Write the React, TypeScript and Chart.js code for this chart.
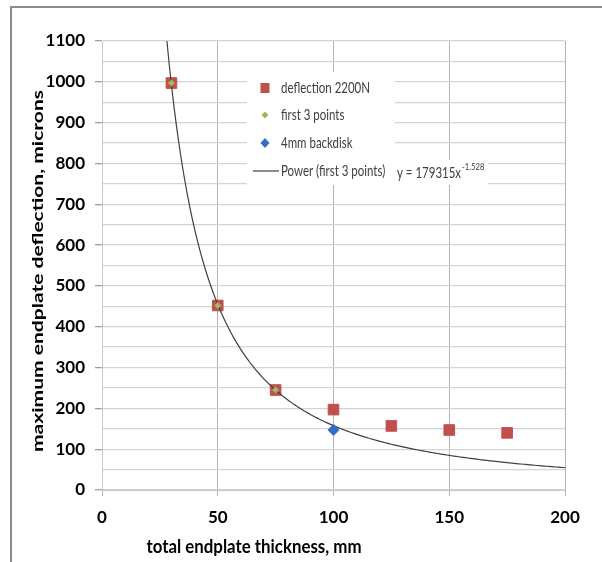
import React, { useEffect, useRef } from "react";
import { Chart, registerables } from "chart.js";

Chart.register(...registerables);

// ---- data ----
const thickness = [30, 50, 75, 100, 125, 150, 175];
const deflection2200N = [997, 452, 245, 197, 157, 147, 140];
const first3Thickness = [30, 50, 75];
const first3Deflection = [997, 452, 245];
const backdiskThickness = [100];
const backdiskDeflection = [147];
// power trendline shown on the chart: y = 179315 x^-1.528
const powerCoef = 179315;
const powerExp = -1.528;
const xMin = 0;
const xMax = 200;
const yMin = 0;
const yMax = 1100;

const legendLabels = ["deflection 2200N", "first 3 points", "4mm backdisk", "Power (first 3 points)"];
const equationText = "y = 179315x";
const equationExp = "-1.528";
const xTitle = "total endplate thickness, mm";
const yTitle = "maximum endplate deflection, microns";

const FONT = 'Lato, "Open Sans", sans-serif';

const RED = "#c0504d";
const GREEN = "#9bbb59";
const BLUE = "#2f6fc4";

function trendPoints() {
  const start = Math.pow(yMax / powerCoef, 1 / powerExp);
  const pts: { x: number; y: number }[] = [];
  pts.push({ x: start, y: powerCoef * Math.pow(start, powerExp) });
  for (let x = Math.ceil(start); x <= xMax; x += 1) {
    pts.push({ x, y: powerCoef * Math.pow(x, powerExp) });
  }
  return pts;
}

const framePlugin = {
  id: "frame",
  beforeDraw(chart: any) {
    const ctx = chart.ctx;
    ctx.save();
    ctx.fillStyle = "#ffffff";
    ctx.fillRect(0, 0, chart.width, chart.height);
    ctx.strokeStyle = "#8c8c8c";
    ctx.lineWidth = 2;
    ctx.beginPath();
    ctx.moveTo(chart.width, 7);
    ctx.lineTo(11, 7);
    ctx.lineTo(11, chart.height);
    ctx.stroke();
    ctx.restore();
  },
};

const overlayPlugin = {
  id: "overlay",
  afterDraw(chart: any) {
    const ctx = chart.ctx;
    ctx.save();
    // axis titles
    ctx.fillStyle = "#000000";
    ctx.font = `bold 15px ${FONT}`;
    ctx.textAlign = "center";
    ctx.textBaseline = "middle";
    const xw = ctx.measureText(xTitle).width;
    ctx.save();
    ctx.translate(254, 547);
    ctx.scale(215 / xw, 1.25);
    ctx.fillText(xTitle, 0, 0);
    ctx.restore();
    const yw = ctx.measureText(yTitle).width;
    ctx.save();
    ctx.translate(38, 271);
    ctx.rotate(-Math.PI / 2);
    ctx.scale(362 / yw, 1.05);
    ctx.fillText(yTitle, 0, 0);
    ctx.restore();

    // legend box
    ctx.fillStyle = "#ffffff";
    ctx.fillRect(247, 72, 148, 113);
    ctx.fillRect(392, 160, 96, 25);

    const rows = [88, 115, 143, 171];
    const mx = 265;
    // red square
    ctx.fillStyle = RED;
    ctx.fillRect(mx - 4.5, rows[0] - 5, 9, 10);
    // green diamond
    ctx.fillStyle = GREEN;
    ctx.beginPath();
    ctx.moveTo(mx, rows[1] - 3.5);
    ctx.lineTo(mx + 3.5, rows[1]);
    ctx.lineTo(mx, rows[1] + 3.5);
    ctx.lineTo(mx - 3.5, rows[1]);
    ctx.closePath();
    ctx.fill();
    // blue diamond
    ctx.fillStyle = BLUE;
    ctx.beginPath();
    ctx.moveTo(mx, rows[2] - 5);
    ctx.lineTo(mx + 4.5, rows[2]);
    ctx.lineTo(mx, rows[2] + 5);
    ctx.lineTo(mx - 4.5, rows[2]);
    ctx.closePath();
    ctx.fill();
    // line
    ctx.strokeStyle = "#404040";
    ctx.lineWidth = 1.2;
    ctx.beginPath();
    ctx.moveTo(253, rows[3]);
    ctx.lineTo(279, rows[3]);
    ctx.stroke();

    ctx.fillStyle = "#404040";
    ctx.textAlign = "left";
    ctx.textBaseline = "middle";
    ctx.font = `12px ${FONT}`;
    const sx = 89 / ctx.measureText(legendLabels[0]).width;
    legendLabels.forEach((t, i) => {
      ctx.save();
      ctx.translate(281, rows[i]);
      ctx.scale(sx, 1.25);
      ctx.fillText(t, 0, 0);
      ctx.restore();
    });
    // equation
    ctx.save();
    ctx.translate(397, 173);
    ctx.scale(sx, 1.2);
    ctx.font = `12px ${FONT}`;
    ctx.fillText(equationText, 0, 0);
    const ew = ctx.measureText(equationText).width;
    ctx.font = `8px ${FONT}`;
    ctx.fillText(equationExp, ew + 1, -5);
    ctx.restore();

    ctx.restore();
  },
};

export default function App() {
  const ref = useRef<HTMLCanvasElement>(null);

  useEffect(() => {
    if (!ref.current) return;
    const tickFont = { family: FONT, size: 17, weight: "bold" as const };
    const chart = new Chart(ref.current, {
      type: "scatter",
      data: {
        datasets: [
          {
            label: legendLabels[0],
            data: thickness.map((x, i) => ({ x, y: deflection2200N[i] })),
            backgroundColor: RED,
            borderColor: RED,
            pointStyle: "rect",
            pointRadius: 7.5,
            borderWidth: 1,
            order: 4,
          },
          {
            label: legendLabels[3],
            type: "line",
            data: trendPoints(),
            borderColor: "#404040",
            borderWidth: 1.2,
            pointRadius: 0,
            fill: false,
            tension: 0,
            order: 3,
          } as any,
          {
            label: legendLabels[1],
            data: first3Thickness.map((x, i) => ({ x, y: first3Deflection[i] })),
            backgroundColor: GREEN,
            borderColor: GREEN,
            pointStyle: "rectRot",
            pointRadius: 3.5,
            borderWidth: 0,
            order: 2,
          },
          {
            label: legendLabels[2],
            data: backdiskThickness.map((x, i) => ({ x, y: backdiskDeflection[i] })),
            backgroundColor: BLUE,
            borderColor: BLUE,
            pointStyle: "rectRot",
            pointRadius: 6,
            borderWidth: 0,
            order: 1,
          },
        ],
      },
      options: {
        responsive: false,
        animation: false,
        devicePixelRatio: 1,
        layout: { padding: { left: 0, top: 41, right: 37, bottom: 0 } },
        plugins: { legend: { display: false }, tooltip: { enabled: false } },
        scales: {
          x: {
            type: "linear",
            min: xMin,
            max: xMax,
            ticks: { stepSize: 50, font: tickFont, color: "#000000", padding: 11, maxRotation: 0 },
            grid: { color: "#b4b4b4", lineWidth: 1, drawTicks: true, tickLength: 6, tickColor: "#b4b4b4" },
            border: { display: true, color: "#c8c8c8", width: 1 },
            afterFit: (s: any) => {
              s.height = 72;
            },
          },
          y: {
            type: "linear",
            min: yMin,
            max: yMax,
            ticks: {
              stepSize: 50,
              font: tickFont,
              color: "#000000",
              padding: 10,
              autoSkip: false,
              callback: (v: any) => (Number(v) % 100 === 0 ? String(v) : ""),
            },
            grid: {
              color: "#d4d4d4",
              lineWidth: 1.3,
              drawTicks: true,
              tickLength: 7,
              tickColor: (c: any) => (c.tick && c.tick.value % 100 === 0 ? "#a0a0a0" : "rgba(0,0,0,0)"),
            },
            border: { display: true, color: "#c8c8c8", width: 1 },
            afterFit: (s: any) => {
              s.width = 102;
            },
          },
        },
      },
      plugins: [framePlugin, overlayPlugin],
    });
    return () => chart.destroy();
  }, []);

  return (
    <div style={{ position: "absolute", left: 0, top: 0, width: 602, height: 562 }}>
      <canvas ref={ref} width={602} height={562} style={{ width: 602, height: 562, display: "block" }} />
    </div>
  );
}
